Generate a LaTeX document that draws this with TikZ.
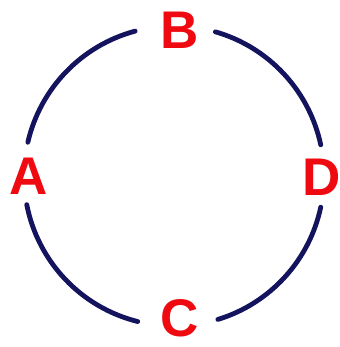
\documentclass[tikz,border=0pt]{standalone}
\usepackage{fontspec}
\setmainfont{Liberation Sans}
\usetikzlibrary{calc}
\definecolor{navy}{HTML}{14145E}
\definecolor{lred}{HTML}{EE0A10}
\tikzset{
  lbl/.style   ={text=lred,font=\fontsize{26.5}{28}\selectfont\bfseries,inner sep=0pt},
  ring/.style  ={draw=navy,line width=2.4pt,line cap=round},
}

\begin{document}
\begin{tikzpicture}[x=0.5pt,y=0.5pt]
  \useasboundingbox (0,0) rectangle (339,-347);
  \coordinate (O) at (174,-176);

  % --- labels on the ring ---
  \node[lbl] (A) at (29,-176) {A};
  \node[lbl] (B) at (180,-30) {B};
  \node[lbl] (C) at (180,-318) {C};
  \node[lbl] (D) at (322,-177) {D};

  % ring pieces between the labels
  \draw[ring] ($(O)+(12:75pt)$)  arc[start angle=12, end angle=74, radius=75pt];
  \draw[ring] ($(O)+(105:75pt)$) arc[start angle=105,end angle=167,radius=75pt];
  \draw[ring] ($(O)+(191:75pt)$) arc[start angle=191,end angle=256,radius=75pt];
  \draw[ring] ($(O)+(287:75pt)$) arc[start angle=287,end angle=348,radius=75pt];
\end{tikzpicture}
\end{document}
